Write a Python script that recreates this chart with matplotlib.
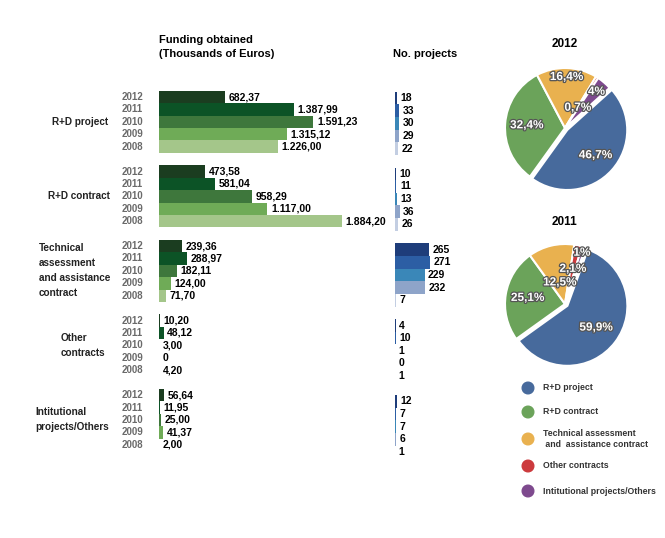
import numpy as np
import matplotlib
matplotlib.use("Agg")
import matplotlib.pyplot as plt
import matplotlib.patheffects as pe
from matplotlib.transforms import blended_transform_factory

W, H = 665, 538

years = ["2012", "2011", "2010", "2009", "2008"]
categories = ["R+D project", "R+D contract",
              "Technical\nassessment\nand assistance\ncontract",
              "Other\ncontracts", "Intitutional\nprojects/Others"]

# funding obtained (thousands of euros), rows 2012..2008
funding_rd_project = [682.37, 1387.99, 1591.23, 1315.12, 1226.00]
funding_rd_contract = [473.58, 581.04, 958.29, 1117.00, 1884.20]
funding_technical = [239.36, 288.97, 182.11, 124.00, 71.70]
funding_other = [10.20, 48.12, 3.00, 0, 4.20]
funding_institutional = [56.64, 11.95, 25.00, 41.37, 2.00]

# number of projects, rows 2012..2008
projects_rd_project = [18, 33, 30, 29, 22]
projects_rd_contract = [10, 11, 13, 36, 26]
projects_technical = [265, 271, 229, 232, 7]
projects_other = [4, 10, 1, 0, 1]
projects_institutional = [12, 7, 7, 6, 1]

# share of funding per year (%)
pie_names = ["R+D project", "R+D contract",
             "Technical assessment\n and  assistance contract",
             "Other contracts", "Intitutional projects/Others"]
pie_2012 = [46.7, 32.4, 16.4, 0.7, 4.0]
pie_2011 = [59.9, 25.1, 12.5, 2.1, 1.0]

funding = [funding_rd_project, funding_rd_contract, funding_technical,
           funding_other, funding_institutional]
projects = [projects_rd_project, projects_rd_contract, projects_technical,
            projects_other, projects_institutional]

fund_colors = ["#1b3d20", "#0c5326", "#3e773c", "#6fab57", "#a4c68a"]
proj_colors = ["#1e3d7a", "#2c5ea4", "#3a87b8", "#8ea4c9", "#c3cee2"]
pie_colors = ["#476a9c", "#6ba35a", "#e9b14f", "#cc3a3d", "#7e4a8e"]

plt.rcParams['font.family'] = ["Liberation Sans", "DejaVu Sans"]


def fmt_eur(v):
    if v == 0:
        return "0"
    s = f"{v:,.2f}"
    return s.replace(",", "X").replace(".", ",").replace("X", ".")


def fmt_pct(v):
    return f"{v:g}".replace(".", ",") + "%"


fig = plt.figure(figsize=(6.65, 5.38), dpi=100)


def px(x, y):
    return x / W, 1 - y / H


def add_px_axes(x0, y0, x1, y1):
    # box given in pixels, y measured from the top
    return fig.add_axes([x0 / W, 1 - y1 / H, (x1 - x0) / W, (y1 - y0) / H])


# --- funding bars ---
ax_f = add_px_axes(159, 90.8, 159 + 233, 463.4)
ax_f.set_xlim(0, 2400)
ax_f.set_ylim(29.5, -0.5)
ax_f.axis('off')
for g, vals in enumerate(funding):
    rows = [g * 6 + k for k in range(5)]
    ax_f.barh(rows, vals, height=1.0, color=fund_colors)
    for r, v, yr in zip(rows, vals, years):
        ax_f.annotate(fmt_eur(v), xy=(v, r), xytext=(2.5, 0),
                      textcoords='offset points', ha='left', va='center',
                      fontsize=7.5, fontweight='bold')
        ax_f.annotate(yr, xy=(0, r), xycoords=ax_f.get_yaxis_transform(),
                      xytext=(-11.5, 0), textcoords='offset points',
                      ha='right', va='center', fontsize=7, fontweight='bold',
                      color='#6a6a6a')

trans = blended_transform_factory(fig.transFigure, ax_f.transData)
cat_pos = [(80, 'center'), (79, 'center'), (39, 'left'), (61, 'left'), (35, 'left')]
for g, (name, (x, ha)) in enumerate(zip(categories, cat_pos)):
    ax_f.text(x / W, g * 6 + 2, name, transform=trans, ha=ha, va='center',
              fontsize=7.2, fontweight='bold', linespacing=1.62,
              color='#222222')

# --- number of projects bars ---
ax_p = add_px_axes(395, 91.7, 395 + 38.7, 470.9)
ax_p.set_xlim(0, 300)
ax_p.set_ylim(29.5, -0.5)
ax_p.axis('off')
for g, vals in enumerate(projects):
    rows = [g * 6 + k for k in range(5)]
    ax_p.barh(rows, vals, height=1.0, color=proj_colors)
    for r, v in zip(rows, vals):
        ax_p.annotate(str(v), xy=(v, r), xytext=(2.5, 0),
                      textcoords='offset points', ha='left', va='center',
                      fontsize=7.5, fontweight='bold')

# --- headers ---
fig.text(*px(159, 40), "Funding obtained", ha='left', va='center',
         fontsize=8, fontweight='bold')
fig.text(*px(159, 54), "(Thousands of Euros)", ha='left', va='center',
         fontsize=8, fontweight='bold')
fig.text(*px(393, 54), "No. projects", ha='left', va='center',
         fontsize=8, fontweight='bold')


# --- pies ---
def draw_pie(cx, cy, R, vals, start, label_r, title, title_y):
    ax = add_px_axes(cx - 1.1 * R, cy - 1.1 * R, cx + 1.1 * R, cy + 1.1 * R)
    wedges, _ = ax.pie(vals, colors=pie_colors, startangle=start,
                       counterclock=False, explode=[0.05, 0, 0, 0, 0],
                       wedgeprops=dict(edgecolor='white', linewidth=1.5))
    ax.set_xlim(-1.1, 1.1)
    ax.set_ylim(-1.1, 1.1)
    for w, v, r in zip(wedges, vals, label_r):
        a = np.deg2rad((w.theta1 + w.theta2) / 2)
        x0, y0 = w.center
        ax.text(x0 + r * np.cos(a), y0 + r * np.sin(a), fmt_pct(v),
                ha='center', va='center', color='white', fontsize=8.5,
                fontweight='bold',
                path_effects=[pe.withStroke(linewidth=1.8, foreground='#555555')])
    fig.text(*px(cx, title_y), title, ha='center', va='center',
             fontsize=8.5, fontweight='bold')


draw_pie(565, 128, 60, pie_2012, 42, [0.63, 0.64, 0.85, 0.4, 0.8], "2012", 44)
draw_pie(565, 304, 60, pie_2011, 70, [0.6, 0.63, 0.37, 0.6, 0.9], "2011", 222)

# --- legend ---
ax_l = add_px_axes(0, 0, W, H)
ax_l.set_xlim(0, W)
ax_l.set_ylim(H, 0)
ax_l.axis('off')
leg_y = [388, 412, 439, 466, 491]
ax_l.scatter([528] * len(pie_names), leg_y, s=70, color=pie_colors)
for name, y in zip(pie_names, leg_y):
    ax_l.text(543, y, name, ha='left', va='center', fontsize=6.3,
              fontweight='bold', color='#333333', linespacing=1.15)

fig.savefig("out.png", dpi=100, facecolor='white')
